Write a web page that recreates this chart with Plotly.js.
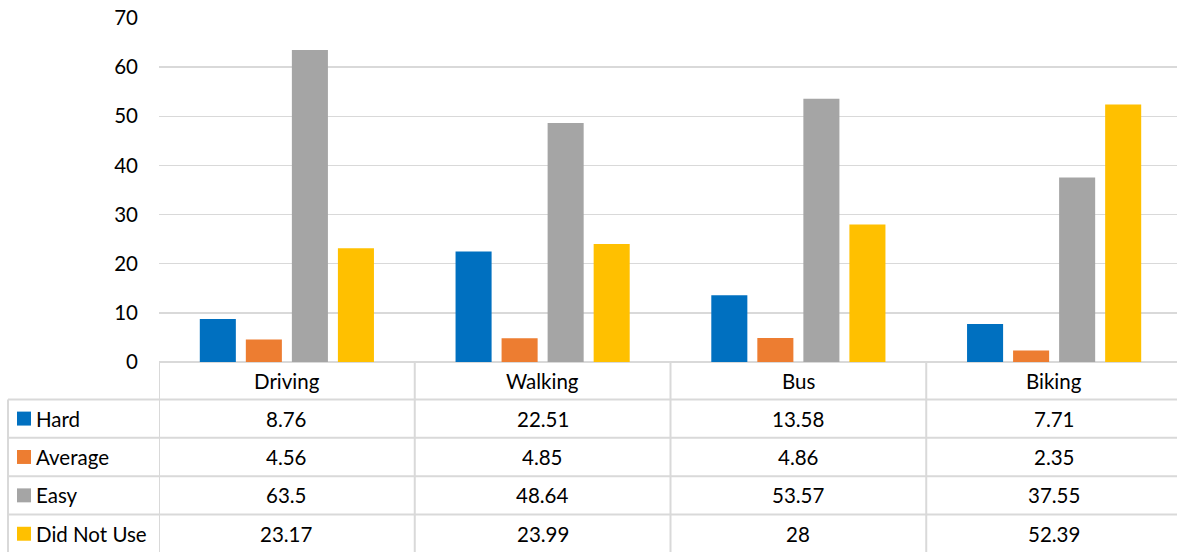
<!DOCTYPE html>
<html>
<head>
<meta charset="utf-8">
<script src="https://cdn.plot.ly/plotly-3.0.1.min.js"></script>
<style>
  html, body { margin: 0; padding: 0; background: #fff; overflow: hidden; }
  #chart { width: 1182px; height: 552px; }
</style>
</head>
<body>
<div id="chart"></div>
<script>
// Travel modes and how respondents rated each one
const modes = ['Driving', 'Walking', 'Bus', 'Biking'];
const seriesNames = ['Hard', 'Average', 'Easy', 'Did Not Use'];
const hard = [8.76, 22.51, 13.58, 7.71];
const average = [4.56, 4.85, 4.86, 2.35];
const easy = [63.5, 48.64, 53.57, 37.55];
const didNotUse = [23.17, 23.99, 28, 52.39];
const yTicks = [0, 10, 20, 30, 40, 50, 60, 70];

const seriesValues = [hard, average, easy, didNotUse];
const colors = ['#0070C0', '#ED7D31', '#A5A5A5', '#FFC000'];

const FONT = 'Lato, "Open Sans", sans-serif';
const FS = 20.5;
const LINE = '#D9D9D9';

// Plot-area geometry in pixels
const W = 1182, H = 552;
const mL = 159, mR = 0, mT = 17.5, axisY = 362.5;
const plotH = axisY - mT;
const py = p => (axisY - p) / plotH;        // pixel row -> paper y
const px = p => (p - mL) / (W - mL - mR);   // pixel column -> paper x

const traces = seriesNames.map((name, i) => ({
  type: 'bar',
  name: name,
  x: modes.map((m, j) => j),
  y: seriesValues[i],
  marker: { color: colors[i] },
  hoverinfo: 'x+y+name'
}));

// Data table under the axis
const headerBottom = 400;
const rowH = 38.5;
const shapes = [];
const annotations = [];

// header row top border is the axis line; header bottom + row separators
shapes.push({ type: 'line', xref: 'paper', yref: 'paper', x0: px(8), x1: 1,
  y0: py(headerBottom), y1: py(headerBottom), line: { color: LINE, width: 2 } });
for (let r = 1; r < seriesNames.length; r++) {
  const yy = py(headerBottom + r * rowH);
  shapes.push({ type: 'line', xref: 'paper', yref: 'paper', x0: px(8), x1: 1,
    y0: yy, y1: yy, line: { color: LINE, width: 2 } });
}
// vertical borders: legend column left edge, then category boundaries
shapes.push({ type: 'line', xref: 'paper', yref: 'paper', x0: px(8), x1: px(8),
  y0: py(headerBottom), y1: py(H + 5), line: { color: LINE, width: 2 } });
for (let j = 0; j < modes.length; j++) {
  shapes.push({ type: 'line', xref: 'x', yref: 'paper', x0: j - 0.5, x1: j - 0.5,
    y0: 0, y1: py(H + 5), line: { color: LINE, width: 2 } });
}

// header labels
modes.forEach((m, j) => {
  annotations.push({ xref: 'x', yref: 'paper', x: j, y: py((axisY + headerBottom) / 2),
    text: m, showarrow: false, xanchor: 'center', yanchor: 'middle',
    font: { family: FONT, size: FS, color: '#000' } });
});

// series rows: legend key, name, values
seriesNames.forEach((name, i) => {
  const top = headerBottom + i * rowH;
  const mid = top + rowH / 2;
  shapes.push({ type: 'rect', xref: 'paper', yref: 'paper',
    x0: px(17), x1: px(31), y0: py(mid - 7), y1: py(mid + 7),
    fillcolor: colors[i], line: { width: 0 } });
  annotations.push({ xref: 'paper', yref: 'paper', x: px(34), y: py(mid),
    text: name, showarrow: false, xanchor: 'left', yanchor: 'middle',
    font: { family: FONT, size: FS, color: '#000' } });
  seriesValues[i].forEach((v, j) => {
    annotations.push({ xref: 'x', yref: 'paper', x: j, y: py(mid),
      text: String(v), showarrow: false, xanchor: 'center', yanchor: 'middle',
      font: { family: FONT, size: FS, color: '#000' } });
  });
});

const layout = {
  width: W, height: H,
  margin: { l: mL, r: mR, t: mT, b: H - axisY },
  paper_bgcolor: '#fff', plot_bgcolor: '#fff',
  barmode: 'group',
  bargap: 0.28,
  bargroupgap: 0.217,
  showlegend: false,
  font: { family: FONT, size: FS, color: '#000' },
  xaxis: {
    range: [-0.5, modes.length - 0.5],
    showticklabels: false, showgrid: false, zeroline: false,
    showline: false, ticks: '', fixedrange: true
  },
  yaxis: {
    range: [0, 70], tickvals: yTicks, ticktext: yTicks.map(String),
    showgrid: true, gridcolor: LINE, gridwidth: 1.3,
    zeroline: true, zerolinecolor: LINE, zerolinewidth: 2,
    showline: false, ticks: '', ticklabelstandoff: 20,
    tickfont: { family: FONT, size: FS, color: '#000' }, fixedrange: true
  },
  shapes: shapes,
  annotations: annotations
};

Plotly.newPlot('chart', traces, layout, { displayModeBar: false, staticPlot: true });
</script>
</body>
</html>
